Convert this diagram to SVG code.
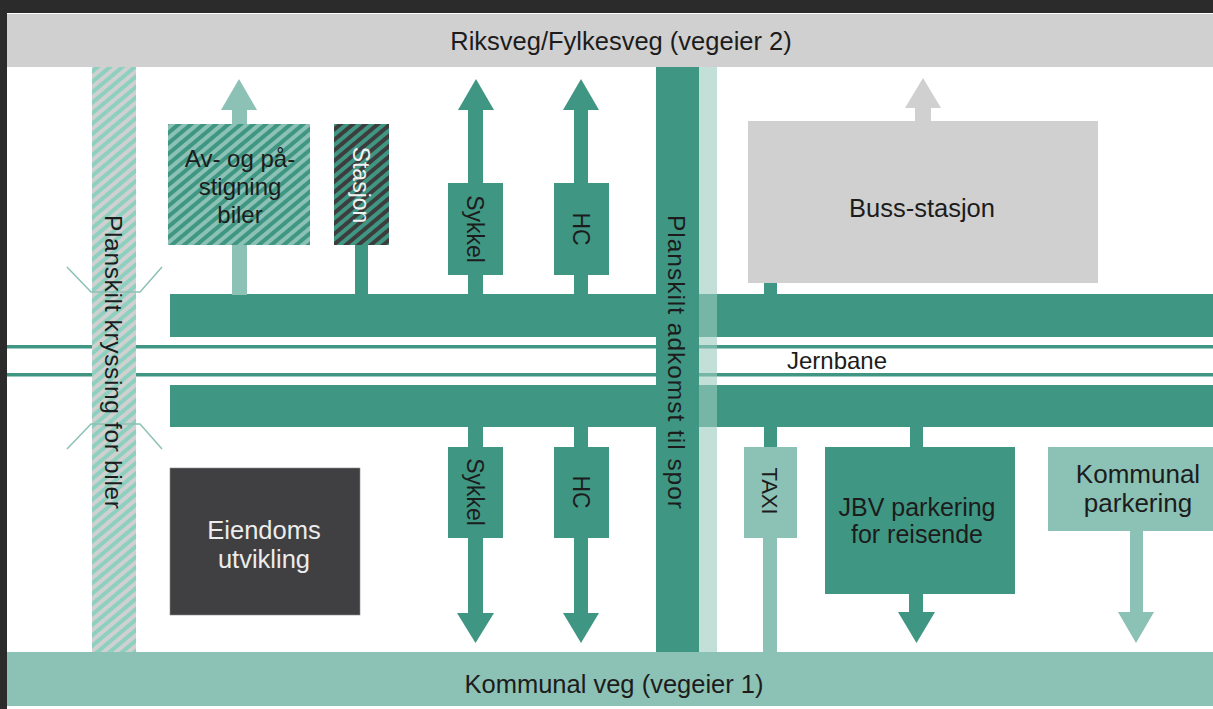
<svg xmlns="http://www.w3.org/2000/svg" width="1213" height="709" viewBox="0 0 1213 709">
<defs>
<style>
.t{font-family:"Liberation Sans",Arial,sans-serif;fill:#1c1c1c;}
.dg{fill:#3f9683;}
.lt{fill:#8cc1b5;}
.gr{fill:#d0d0d0;}
</style>
<pattern id="hLeft" patternUnits="userSpaceOnUse" width="8" height="8" patternTransform="rotate(50)">
<rect width="8" height="8" fill="#d0d0d0"/><rect width="4" height="8" fill="#8ed0bf"/>
</pattern>
<pattern id="hAv" patternUnits="userSpaceOnUse" width="8" height="8" patternTransform="rotate(50)">
<rect width="8" height="8" fill="#8cc1b5"/><rect width="4" height="8" fill="#3f9683"/>
</pattern>
<pattern id="hSt" patternUnits="userSpaceOnUse" width="8" height="8" patternTransform="rotate(50)">
<rect width="8" height="8" fill="#3f9683"/><rect width="4" height="8" fill="#3d3d3d"/>
</pattern>
</defs>
<rect width="1213" height="709" fill="#ffffff"/>
<rect x="0" y="0" width="1213" height="13" fill="#2b2b2b"/>
<rect x="0" y="0" width="7" height="709" fill="#2b2b2b"/>

<g id="riksveg">
<rect x="7" y="14" width="1206" height="53" class="gr"/>
<text class="t" x="621" y="50" font-size="25.5" text-anchor="middle">Riksveg/Fylkesveg (vegeier 2)</text>
</g>
<g id="kommunal-veg">
<rect x="7" y="652" width="1206" height="54" class="lt"/>
<text class="t" x="614" y="693" font-size="25.5" text-anchor="middle">Kommunal veg (vegeier 1)</text>
</g>
<g id="jernbane">
<rect x="7" y="345" width="1206" height="3.5" class="dg"/>
<rect x="7" y="373" width="1206" height="3.5" class="dg"/>
<text class="t" x="837" y="369" font-size="24" text-anchor="middle">Jernbane</text>
</g>
<g id="vei-nord"><rect x="170" y="294" width="1043" height="43" class="dg"/></g>
<g id="vei-sor"><rect x="170" y="385" width="1043" height="42" class="dg"/></g>

<g id="planskilt-kryssing">
<rect x="92" y="67" width="44" height="585" fill="url(#hLeft)"/>
<g fill="none" stroke="#8cc1b5" stroke-width="1.5">
<polyline points="67,267 91,292 140,292 162,267"/>
<polyline points="67,449 91,424 140,424 162,449"/>
</g>
<text class="t" font-size="24.5" text-anchor="middle" dy="0.35em" textLength="294" lengthAdjust="spacing" transform="translate(114,362) rotate(90)">Planskilt kryssing for biler</text>
</g>

<g id="planskilt-adkomst">
<rect x="656" y="67" width="43" height="585" class="dg"/>
<rect x="699" y="67" width="18" height="585" fill="#99cbbe" opacity="0.6"/>
<text class="t" font-size="24.5" text-anchor="middle" dy="0.35em" textLength="294" lengthAdjust="spacing" transform="translate(677,362) rotate(90)">Planskilt adkomst til spor</text>
</g>

<g id="connectors">
<rect x="232" y="108" width="15" height="17" class="lt"/>
<polygon points="221,110 257,110 239,79" class="lt"/>
<rect x="232" y="244" width="15" height="51" class="lt"/>
<rect x="355" y="244" width="13" height="51" class="dg"/>
<rect x="468" y="108" width="15" height="76" class="dg"/>
<polygon points="458,110 494,110 476,79" class="dg"/>
<rect x="468" y="274" width="15" height="21" class="dg"/>
<rect x="574" y="108" width="14" height="76" class="dg"/>
<polygon points="563,110 599,110 581,79" class="dg"/>
<rect x="574" y="274" width="14" height="21" class="dg"/>
<rect x="915" y="106" width="16" height="16" class="gr"/>
<polygon points="905,108 941,108 923,78" class="gr"/>
<rect x="764" y="282" width="13" height="13" class="dg"/>
<rect x="468" y="426" width="15" height="22" class="dg"/>
<rect x="468" y="537" width="15" height="78" class="dg"/>
<polygon points="457,613 494,613 475.5,643" class="dg"/>
<rect x="574" y="426" width="14" height="22" class="dg"/>
<rect x="574" y="537" width="14" height="78" class="dg"/>
<polygon points="563,613 599,613 581,643" class="dg"/>
<rect x="764" y="426" width="13" height="22" class="dg"/>
<rect x="763" y="537" width="14" height="116" class="lt"/>
<rect x="910" y="426" width="13" height="22" class="dg"/>
<rect x="909" y="593" width="14" height="21" class="dg"/>
<polygon points="898,612 935,612 916.5,643" class="dg"/>
<rect x="1130" y="530" width="13" height="84" class="lt"/>
<polygon points="1118,612 1154,612 1136,643" class="lt"/>
</g>

<g id="av-og-pastigning">
<rect x="168" y="124" width="142" height="121" fill="url(#hAv)"/>
<text class="t" font-size="24" text-anchor="middle"><tspan x="240" y="167">Av- og på-</tspan><tspan x="240" y="195">stigning</tspan><tspan x="240" y="223">biler</tspan></text>
</g>
<g id="stasjon">
<rect x="334" y="124" width="55" height="121" fill="url(#hSt)"/>
<text class="t" font-size="23" text-anchor="middle" dy="0.35em" style="fill:#f2f2f2" transform="translate(361,185) rotate(90)">Stasjon</text>
</g>
<g id="sykkel-nord">
<rect x="448" y="183" width="55" height="92" class="dg"/>
<text class="t" font-size="23" text-anchor="middle" dy="0.35em" transform="translate(475,229) rotate(90)">Sykkel</text>
</g>
<g id="hc-nord">
<rect x="554" y="183" width="55" height="92" class="dg"/>
<text class="t" font-size="23" text-anchor="middle" dy="0.35em" transform="translate(581,229) rotate(90)">HC</text>
</g>
<g id="buss-stasjon">
<rect x="748" y="121" width="350" height="162" class="gr"/>
<text class="t" x="922" y="217" font-size="25.5" text-anchor="middle">Buss-stasjon</text>
</g>
<g id="eiendomsutvikling">
<rect x="170" y="468" width="190" height="147" fill="#404042" stroke="#8a8a8a" stroke-width="0.6"/>
<text class="t" font-size="25.5" text-anchor="middle" style="fill:#ececec"><tspan x="264" y="539">Eiendoms</tspan><tspan x="264" y="568">utvikling</tspan></text>
</g>
<g id="sykkel-sor">
<rect x="448" y="447" width="55" height="91" class="dg"/>
<text class="t" font-size="23" text-anchor="middle" dy="0.35em" transform="translate(475,492) rotate(90)">Sykkel</text>
</g>
<g id="hc-sor">
<rect x="554" y="447" width="55" height="91" class="dg"/>
<text class="t" font-size="23" text-anchor="middle" dy="0.35em" transform="translate(581,492) rotate(90)">HC</text>
</g>
<g id="taxi">
<rect x="744" y="447" width="53" height="91" class="lt"/>
<text class="t" font-size="22" text-anchor="middle" dy="0.35em" transform="translate(770,491) rotate(90)">TAXI</text>
</g>
<g id="jbv-parkering">
<rect x="825" y="447" width="190" height="147" class="dg"/>
<text class="t" font-size="25" text-anchor="middle"><tspan x="917" y="516">JBV parkering</tspan><tspan x="917" y="543">for reisende</tspan></text>
</g>
<g id="kommunal-parkering">
<rect x="1048" y="447" width="165" height="84" class="lt"/>
<text class="t" font-size="26" text-anchor="middle"><tspan x="1138" y="483">Kommunal</tspan><tspan x="1138" y="512">parkering</tspan></text>
</g>
</svg>
